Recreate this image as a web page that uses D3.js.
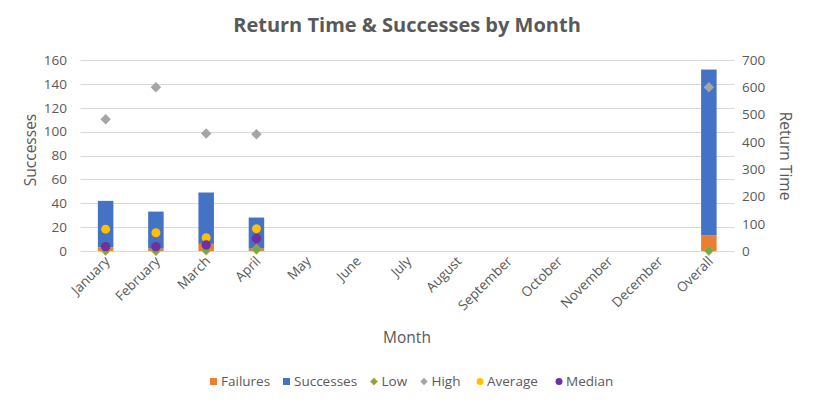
<!DOCTYPE html>
<html>
<head>
<meta charset="utf-8">
<script src="https://cdn.jsdelivr.net/npm/d3@7"></script>
<style>
  html, body { margin: 0; padding: 0; background: #fff; }
  svg { display: block; }
  text { font-family: "Open Sans", "Liberation Sans", sans-serif; fill: #595959; }
</style>
</head>
<body>
<svg id="chart" width="816" height="403"></svg>
<script>
const months = ["January","February","March","April","May","June","July","August","September","October","November","December","Overall"];
const failures  = [3, 2, 6, 2, null, null, null, null, null, null, null, null, 13];
const successes = [39, 31, 43, 26, null, null, null, null, null, null, null, null, 139];
const low       = [2, 1, 3, 6, null, null, null, null, null, null, null, null, 2];
const high      = [483, 600, 431, 428, null, null, null, null, null, null, null, null, 600];
const average   = [80, 67, 49, 82, null, null, null, null, null, null, null, null, null];
const median    = [16, 16, 22, 46, null, null, null, null, null, null, null, null, null];
const leftTicks  = [0, 20, 40, 60, 80, 100, 120, 140, 160];
const rightTicks = [0, 100, 200, 300, 400, 500, 600, 700];

const colors = {failures: "#ED7D31", successes: "#4472C4", low: "#70AD47", lowStroke: "#D99A45", high: "#A5A5A5", average: "#FFC000", median: "#7030A0"};

const svg = d3.select("#chart");
const plot = {left: 80.5, right: 734, top: 60, bottom: 251};

const x = d3.scaleBand().domain(months).range([plot.left, plot.right]).paddingInner(0).paddingOuter(0);
const yL = d3.scaleLinear().domain([0, 160]).range([plot.bottom, plot.top]);
const yR = d3.scaleLinear().domain([0, 700]).range([plot.bottom, plot.top]);
const barW = 15.5;
const cx = m => x(m) + x.bandwidth() / 2;

// Title
svg.append("text").attr("x", 407).attr("y", 32).attr("text-anchor", "middle")
  .style("font-size", "20px").style("font-weight", "bold").text("Return Time & Successes by Month");

// Gridlines
svg.append("g").selectAll("line").data(leftTicks).join("line")
  .attr("x1", plot.left).attr("x2", plot.right)
  .attr("y1", d => Math.round(yL(d)) + 0.5).attr("y2", d => Math.round(yL(d)) + 0.5)
  .attr("stroke", "#D9D9D9").attr("stroke-width", 1);

// Left axis
const axL = d3.axisLeft(yL).tickValues(leftTicks).tickSize(0).tickPadding(0);
const gL = svg.append("g").attr("transform", `translate(67,0)`).call(axL);
gL.select(".domain").remove();
gL.selectAll("text").style("font-size", "13.5px").style("fill", "#595959").style("font-family", "'Open Sans', sans-serif");

// Right axis
const axR = d3.axisRight(yR).tickValues(rightTicks).tickSize(0).tickPadding(0);
const gR = svg.append("g").attr("transform", `translate(742,0)`).call(axR);
gR.select(".domain").remove();
gR.selectAll("text").style("font-size", "13.5px").style("fill", "#595959").style("font-family", "'Open Sans', sans-serif");

// Axis titles
svg.append("text").attr("transform", "translate(36,150) rotate(-90)").attr("text-anchor", "middle")
  .style("font-size", "15.5px").text("Successes");
svg.append("text").attr("transform", "translate(780,156) rotate(90)").attr("text-anchor", "middle")
  .style("font-size", "15.5px").text("Return Time");
svg.append("text").attr("x", 407).attr("y", 343).attr("text-anchor", "middle")
  .style("font-size", "15.5px").text("Month");

// X labels
svg.append("g").selectAll("text").data(months).join("text")
  .attr("transform", d => `translate(${cx(d) + 5},${262}) rotate(-45)`)
  .attr("text-anchor", "end").style("font-size", "13.5px").text(d => d);

// Bars (stacked)
const stackData = months.map((m, i) => ({m, f: failures[i], s: successes[i]}));
const gb = svg.append("g");
gb.selectAll("rect.f").data(stackData.filter(d => d.f != null)).join("rect").attr("class", "f")
  .attr("x", d => cx(d.m) - barW / 2).attr("width", barW)
  .attr("y", d => yL(d.f)).attr("height", d => yL(0) - yL(d.f)).attr("fill", colors.failures);
gb.selectAll("rect.s").data(stackData.filter(d => d.s != null)).join("rect").attr("class", "s")
  .attr("x", d => cx(d.m) - barW / 2).attr("width", barW)
  .attr("y", d => yL(d.f + d.s)).attr("height", d => yL(d.f) - yL(d.f + d.s)).attr("fill", colors.successes);

// Markers
const diamond = d3.symbol().type(d3.symbolDiamond2);
function pts(arr) { return months.map((m, i) => ({m, v: arr[i]})).filter(d => d.v != null); }

svg.append("g").selectAll("path").data(pts(low)).join("path")
  .attr("transform", d => `translate(${cx(d.m)},${yR(d.v)})`)
  .attr("d", diamond.size(62)).attr("fill", colors.low).attr("stroke", colors.lowStroke).attr("stroke-width", 0.8);
svg.append("g").selectAll("path").data(pts(high)).join("path")
  .attr("transform", d => `translate(${cx(d.m)},${yR(d.v)})`)
  .attr("d", diamond.size(70)).attr("fill", colors.high);
svg.append("g").selectAll("circle").data(pts(average)).join("circle")
  .attr("cx", d => cx(d.m)).attr("cy", d => yR(d.v)).attr("r", 4.5).attr("fill", colors.average);
svg.append("g").selectAll("circle").data(pts(median)).join("circle")
  .attr("cx", d => cx(d.m)).attr("cy", d => yR(d.v)).attr("r", 4.7).attr("fill", colors.median);

// Legend
const legendItems = [
  {name: "Failures", type: "square", color: colors.failures, x: 210},
  {name: "Successes", type: "square", color: colors.successes, x: 283},
  {name: "Low", type: "diamond", color: "#94A23C", stroke: colors.lowStroke, x: 373},
  {name: "High", type: "diamond", color: colors.high, x: 423},
  {name: "Average", type: "circle", color: colors.average, x: 479},
  {name: "Median", type: "circle", color: colors.median, x: 558}
];
const ly = 381.5;
const lg = svg.append("g");
legendItems.forEach(it => {
  if (it.type === "square") {
    lg.append("rect").attr("x", it.x).attr("y", ly - 3.5).attr("width", 7).attr("height", 7).attr("fill", it.color);
    lg.append("text").attr("x", it.x + 11).attr("y", ly).attr("dy", "0.35em").style("font-size", "13.5px").text(it.name);
  } else if (it.type === "diamond") {
    lg.append("path").attr("transform", `translate(${it.x + 1},${ly})`).attr("d", d3.symbol().type(d3.symbolDiamond2).size(34)())
      .attr("fill", it.color).attr("stroke", it.stroke || "none").attr("stroke-width", 0.6);
    lg.append("text").attr("x", it.x + 8.5).attr("y", ly).attr("dy", "0.35em").style("font-size", "13.5px").text(it.name);
  } else {
    lg.append("circle").attr("cx", it.x + 1).attr("cy", ly).attr("r", 3.5).attr("fill", it.color);
    lg.append("text").attr("x", it.x + 8).attr("y", ly).attr("dy", "0.35em").style("font-size", "13.5px").text(it.name);
  }
});
</script>
</body>
</html>
